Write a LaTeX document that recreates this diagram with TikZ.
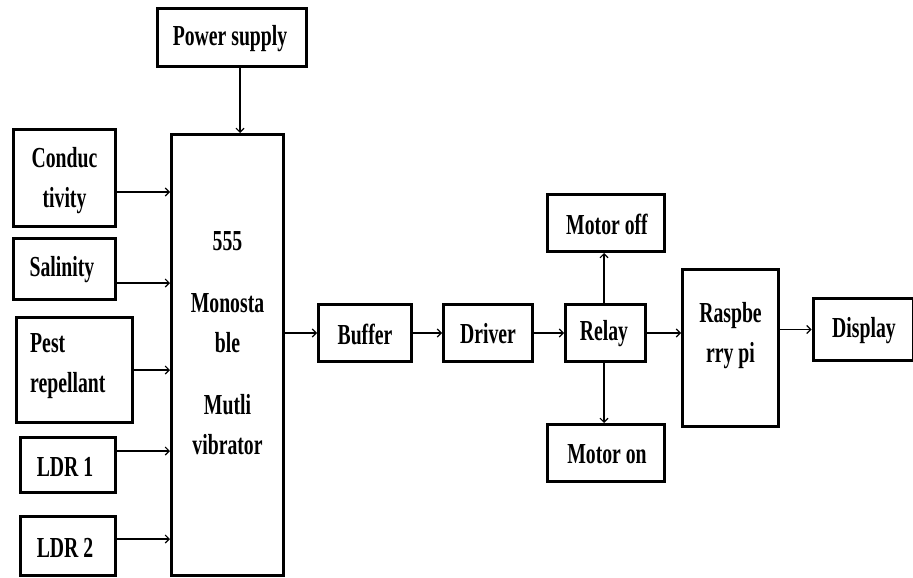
\documentclass[tikz,border=0pt]{standalone}
\usepackage{fontspec}
\setmainfont{Liberation Serif}[FakeStretch=0.68]
\usetikzlibrary{arrows.meta}
\begin{document}
\begin{tikzpicture}[x=1pt,y=-1pt,
  blk/.style={draw=black, line width=3pt, fill=white, rectangle, inner sep=0pt, anchor=center},
  txt/.style={font=\fontsize{29}{40}\selectfont\bfseries, align=center, inner sep=0pt},
  arr/.style={draw=black, line width=1.1pt, -{Straight Barb[length=4pt,width=8pt]}}
]
\useasboundingbox (0,0) rectangle (913,578);
% boxes
\node[blk, minimum width=149pt, minimum height=58pt] (ps) at (232,37.5) {};
\node[txt] (pst) at (230,39) {Power supply};
\node[blk, minimum width=112pt, minimum height=441pt] (mv) at (227.5,355) {};
\node[txt] (mvt) at (227.5,343) {555\\[22pt]Monosta\\ble\\[22pt]Mutli\\vibrator};
\node[blk, minimum width=102pt, minimum height=97pt] (cond) at (64.5,178) {};
\node[txt] (condt) at (64.5,181) {Conduc\\tivity};
\node[blk, minimum width=102pt, minimum height=61pt] (sal) at (64.5,269) {};
\node[txt] (salt) at (62,270) {Salinity};
\node[blk, minimum width=116pt, minimum height=105pt] (pest) at (74.5,370) {};
\node[txt, align=left, anchor=west] (pestt) at (30,366) {Pest\\repellant};
\node[blk, minimum width=95pt, minimum height=55pt] (ldr1) at (68,465) {};
\node[txt] (ldr1t) at (65,467) {LDR 1};
\node[blk, minimum width=95pt, minimum height=59pt] (ldr2) at (68,546) {};
\node[txt] (ldr2t) at (65,548) {LDR 2};
\node[blk, minimum width=93pt, minimum height=57pt] (buf) at (365,333) {};
\node[txt] (buft) at (365,334) {Buffer};
\node[blk, minimum width=89pt, minimum height=57pt] (drv) at (488,333) {};
\node[txt] (drvt) at (488,334) {Driver};
\node[blk, minimum width=80pt, minimum height=57pt] (rel) at (605.5,333) {};
\node[txt] (relt) at (604,334) {Relay};
\node[blk, minimum width=117pt, minimum height=57pt] (moff) at (606,223) {};
\node[txt] (mofft) at (607,224) {Motor off};
\node[blk, minimum width=117pt, minimum height=57pt] (mon) at (606,453) {};
\node[txt] (mont) at (607,454) {Motor on};
\node[blk, minimum width=96pt, minimum height=157pt] (rpi) at (730.5,348) {};
\node[txt] (rpit) at (730.5,336) {Raspbe\\rry pi};
\node[blk, minimum width=100pt, minimum height=62pt] (disp) at (863,329.5) {};
\node[txt] (dispt) at (864,331) {Display};
% connectors
\draw[arr] (ps.south -| 240,0) -- (mv.north -| 240,0);
\draw[arr] ([yshift=-14pt]cond.east) -- ([yshift=-14pt]cond.east -| mv.west);
\draw[arr] ([yshift=-14pt]sal.east) -- ([yshift=-14pt]sal.east -| mv.west);
\draw[arr] (pest.east) -- (pest.east -| mv.west);
\draw[arr] ([yshift=14pt]ldr1.east) -- ([yshift=14pt]ldr1.east -| mv.west);
\draw[arr] ([yshift=7pt]ldr2.east) -- ([yshift=7pt]ldr2.east -| mv.west);
\draw[arr] (mv.east |- buf.west) -- (buf.west);
\draw[arr] (buf.east) -- (drv.west);
\draw[arr] (drv.east) -- (rel.west);
\draw[arr] (rel.north -| 604,0) -- (moff.south -| 604,0);
\draw[arr] (rel.south -| 604,0) -- (mon.north -| 604,0);
\draw[arr] (rel.east) -- (rel.east -| rpi.west);
\draw[arr] (rpi.east |- disp.west) -- (disp.west);
\end{tikzpicture}
\end{document}
